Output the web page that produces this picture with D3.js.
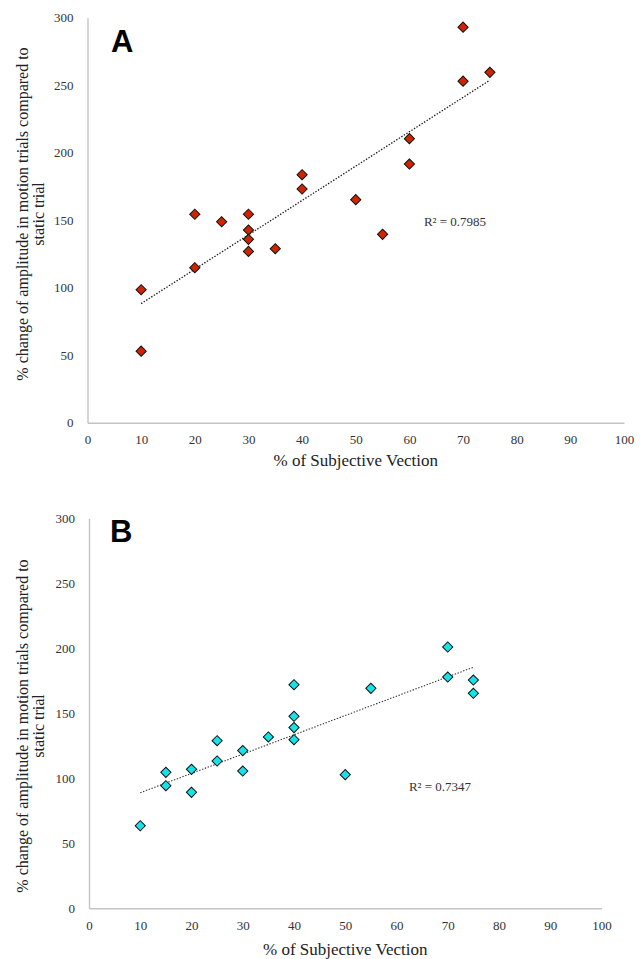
<!DOCTYPE html>
<html>
<head>
<meta charset="utf-8">
<script src="https://cdn.jsdelivr.net/npm/d3@7"></script>
<style>
  html, body { margin: 0; padding: 0; background: #fff; }
  svg { display: block; }
  svg text { font-family: "Liberation Serif", "Times New Roman", Times, serif; }
  svg text.letter { font-family: "Liberation Sans", Arial, sans-serif; font-weight: bold; }
</style>
</head>
<body>
<svg id="chart"></svg>
<script>
// panel A: vection (%) vs amplitude change (%)
const vectionA = [10, 10, 20, 20, 25, 30, 30, 30, 30, 35, 40, 40, 50, 55, 60, 60, 70, 70, 75];
const amplitudeA = [98.5, 53, 154.4, 114.8, 148.9, 154.4, 142.7, 135.8, 126.9, 128.9, 183.7, 173.1, 165.2, 139.5, 210.4, 191.6, 293, 253, 259.5];

// panel B
const vectionB = [10, 15, 15, 20, 20, 25, 25, 30, 30, 35, 40, 40, 40, 40, 50, 55, 70, 70, 75, 75];
const amplitudeB = [63.5, 104.6, 94.3, 106.9, 89.2, 128.9, 113.3, 121.3, 105.6, 131.8, 172, 147.7, 139, 129.7, 102.8, 169.2, 201, 177.9, 175.6, 165.4];

const xTicks = [0, 10, 20, 30, 40, 50, 60, 70, 80, 90, 100];
const yTicks = [0, 50, 100, 150, 200, 250, 300];
const r2Labels = ["R² = 0.7985", "R² = 0.7347"];
const panelLetters = ["A", "B"];
const xTitle = "% of Subjective Vection";
const yTitle = ["% change of amplitude in motion trials compared to", "static trial"];

const width = 644;
const height = 959;

const svg = d3.select("#chart").attr("width", width).attr("height", height);

const panels = [
  {
    xs: vectionA, ys: amplitudeA, fill: "#d02400", letter: panelLetters[0], r2: r2Labels[0],
    xRange: [87.5, 624], yRange: [422.7, 17.7],
    letterPos: [111, 52], r2Pos: [455, 221], yTitleY: 214, xTitleY: 466,
    lineColor: "#1a1a1a", lineWidth: 1.3,
  },
  {
    xs: vectionB, ys: amplitudeB, fill: "#12e4ea", letter: panelLetters[1], r2: r2Labels[1],
    xRange: [89, 601.5], yRange: [908.3, 518.3],
    letterPos: [110, 541.5], r2Pos: [440, 786], yTitleY: 726, xTitleY: 955,
    lineColor: "#333", lineWidth: 1.1,
  },
];

const diamond = d3.symbol(d3.symbolSquare, 52);

function linreg(xs, ys) {
  const mx = d3.mean(xs);
  const my = d3.mean(ys);
  const sxy = d3.sum(xs, (x, i) => (x - mx) * (ys[i] - my));
  const sxx = d3.sum(xs, (x) => (x - mx) ** 2);
  const slope = sxy / sxx;
  return (x) => my + slope * (x - mx);
}

panels.forEach((p) => {
  const x = d3.scaleLinear().domain([0, 100]).range(p.xRange);
  const y = d3.scaleLinear().domain([0, 300]).range(p.yRange);
  const g = svg.append("g");

  // x axis
  g.append("g")
    .attr("transform", `translate(0,${p.yRange[0]})`)
    .call(d3.axisBottom(x).tickValues(xTicks).tickSize(0).tickSizeOuter(0).tickFormat(d3.format("d")))
    .attr("font-family", null)
    .call((g) => g.select(".domain").attr("stroke", "#c4c4c4").attr("stroke-width", 1.4))
    .call((g) =>
      g.selectAll("text")
        .attr("y", 17)
        .attr("dy", "0.35em")
        .attr("font-size", 13)
        .attr("fill", "#333")
    );

  // y axis
  g.append("g")
    .attr("transform", `translate(${p.xRange[0]},0)`)
    .call(d3.axisLeft(y).tickValues(yTicks).tickSize(0).tickSizeOuter(0).tickPadding(14))
    .attr("font-family", null)
    .call((g) => g.select(".domain").attr("stroke", "#c4c4c4").attr("stroke-width", 1.4))
    .call((g) =>
      g.selectAll("text")
        .attr("font-size", 13)
        .attr("fill", "#333")
    );

  // trendline
  const fit = linreg(p.xs, p.ys);
  const [x0, x1] = d3.extent(p.xs);
  g.append("line")
    .attr("x1", x(x0)).attr("y1", y(fit(x0)))
    .attr("x2", x(x1)).attr("y2", y(fit(x1)))
    .attr("stroke", p.lineColor)
    .attr("stroke-width", p.lineWidth)
    .attr("stroke-dasharray", "1.4,1.6");

  // markers
  g.append("g")
    .selectAll("path")
    .data(p.xs.map((v, i) => [v, p.ys[i]]))
    .join("path")
    .attr("d", diamond)
    .attr("transform", (d) => `translate(${x(d[0])},${y(d[1])}) rotate(45)`)
    .attr("fill", p.fill)
    .attr("stroke", "#111")
    .attr("stroke-width", 1);

  // R² label
  g.append("text")
    .attr("x", p.r2Pos[0]).attr("y", p.r2Pos[1])
    .attr("dy", "0.35em")
    .attr("text-anchor", "middle")
    .attr("font-size", 13)
    .attr("fill", "#333")
    .text(p.r2);

  // panel letter
  g.append("text")
    .attr("class", "letter")
    .attr("x", p.letterPos[0]).attr("y", p.letterPos[1])
    .attr("font-size", 31)
    .attr("fill", "#000")
    .text(p.letter);

  // x title
  g.append("text")
    .attr("x", (p.xRange[0] + p.xRange[1]) / 2)
    .attr("y", p.xTitleY)
    .attr("text-anchor", "middle")
    .attr("font-size", 17)
    .attr("fill", "#222")
    .text(xTitle);

  // y title, two lines
  g.append("g")
    .selectAll("text")
    .data(yTitle)
    .join("text")
    .attr("transform", (d, i) => `translate(${22 + i * 16},${p.yTitleY}) rotate(-90)`)
    .attr("dy", "0.35em")
    .attr("text-anchor", "middle")
    .attr("font-size", 16)
    .attr("fill", "#222")
    .text((d) => d);
});
</script>
</body>
</html>
